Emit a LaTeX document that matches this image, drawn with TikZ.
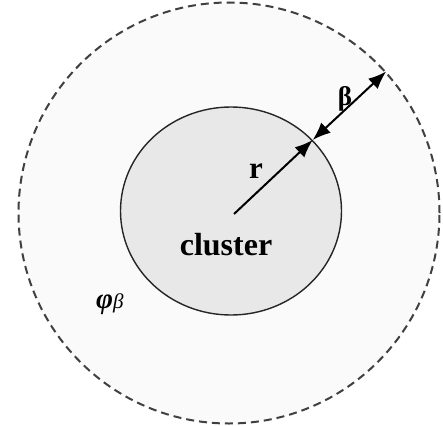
\documentclass[tikz,border=0pt]{standalone}
\usepackage{fontspec}
\setmainfont{Liberation Serif}
\usetikzlibrary{arrows.meta,shapes.geometric}
\tikzset{
  outerc/.style={circle, draw=black!75, dash pattern=on 8pt off 5pt, line width=2pt, fill=gray!4, minimum size=421pt, inner sep=0pt},
  innerc/.style={ellipse, draw=black!85, line width=1.4pt, fill=gray!18, minimum width=221pt, minimum height=208pt, inner sep=0pt},
  arr/.style={line width=2pt, -{Latex[length=18pt,width=14pt]}},
  darr/.style={line width=2pt, {Latex[length=18pt,width=14pt]}-{Latex[length=18pt,width=14pt]}},
  lbl/.style={inner sep=0pt, font=\fontsize{31}{34}\selectfont\bfseries}
}
\begin{document}
\begin{tikzpicture}[x=1pt,y=-1pt]
\useasboundingbox (0,0) rectangle (443,425);
\fill[white] (0,0) rectangle (443,425);
\node[outerc] (outer) at (229,213) {};
\node[innerc] (inner) at (231,211) {};
\coordinate (c) at (234,214);
\draw[arr] (c) -- (inner.41);
\draw[darr] (inner.41) -- (outer.42);
\node[lbl] (r) at (256,171) {r};
\node[lbl, font=\fontsize{27}{30}\selectfont\bfseries] (b) at (345,99) {β};
\node[inner sep=0pt, font=\fontsize{32}{36}\selectfont\bfseries, anchor=base] (cl) at (226,255) {cluster};
\node[inner sep=0pt, anchor=base west] (phi) at (96,308) {{\fontsize{29}{32}\selectfont\bfseries\itshape φ}{\fontsize{21}{24}\selectfont\itshape β}};
\end{tikzpicture}
\end{document}
